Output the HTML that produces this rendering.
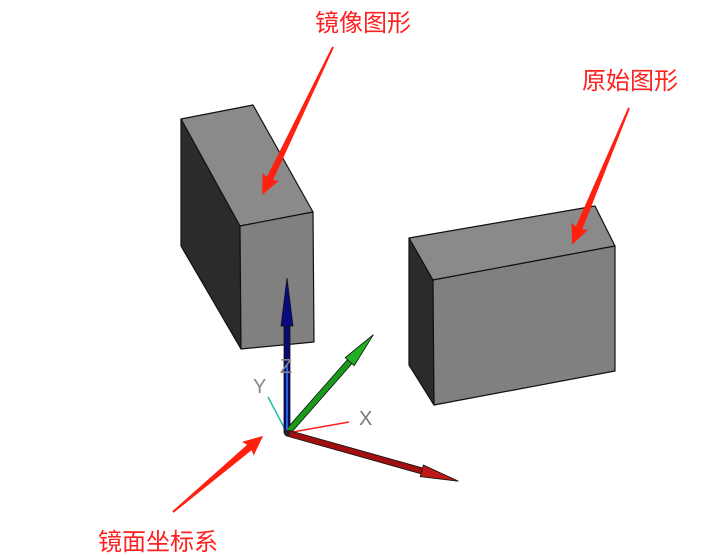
<!DOCTYPE html>
<html><head><meta charset="utf-8"><style>
html,body{margin:0;padding:0;background:#fff;width:720px;height:556px;overflow:hidden}
text{font-family:"Liberation Sans","Noto Sans CJK SC",sans-serif;}
</style></head><body>
<svg width="720" height="556" viewBox="0 0 720 556" xmlns="http://www.w3.org/2000/svg">
<g stroke="#111" stroke-width="1.2" stroke-linejoin="round">
<polygon points="181,119 240,226 241,349 181,246" fill="#2b2b2b"/>
<polygon points="181,119 253,105 313,212 240,226" fill="#8a8a8a"/>
<polygon points="240,226 313,212 314,342 241,349" fill="#808080"/>
<polygon points="409,238 433,280 434,405 409,365" fill="#2b2b2b"/>
<polygon points="409,238 595,206 615,246 433,280" fill="#8a8a8a"/>
<polygon points="433,280 615,246 615,371 434,405" fill="#808080"/>
</g>
<line x1="287" y1="433" x2="268" y2="397" stroke="#20c0a0" stroke-width="1.5"/>
<line x1="287" y1="433" x2="349" y2="422" stroke="#ff2020" stroke-width="1.5"/>
<g stroke="#111" stroke-width="0.8">
<rect x="284" y="320" width="6" height="113" fill="#0a0a70"/>
<polygon points="287,278 293,326 281,326" fill="#0a0a80"/>
<g transform="translate(287,433) rotate(-48.7)">
<rect x="0" y="-3" width="110" height="6" fill="#1a9a1a"/>
<polygon points="131,0 95,-6 95,6" fill="#22b022"/>
</g>
<g transform="translate(287,433) rotate(15.7)">
<rect x="0" y="-3" width="150" height="6" fill="#a01010"/>
<polygon points="178,0 140,-6 140,6" fill="#c01818"/>
</g>
</g>
<line x1="287" y1="433" x2="287" y2="365" stroke="#3080ff" stroke-width="1.5"/>
<circle cx="287" cy="433" r="3" fill="#222"/>
<text x="253" y="393" font-size="20" fill="#888">Y</text>
<text x="280" y="373" font-size="20" fill="#888">Z</text>
<text x="359" y="425" font-size="20" fill="#777">X</text>
<g fill="#ff2010">
<g transform="translate(333,47) rotate(115.6)"><polygon points="0,-1 146,-3.5 144,-9 164,0 144,9 146,3.5 0,1"/></g>
<g transform="translate(629,108) rotate(112.6)"><polygon points="0,-1 130,-3.5 128,-9 148,0 128,9 130,3.5 0,1"/></g>
<g transform="translate(173,512) rotate(-40.2)"><polygon points="0,-1 100,-3.5 98,-9 118,0 98,9 100,3.5 0,1"/></g>
</g>
<text x="315" y="31" font-size="24" fill="#ff2020">镜像图形</text>
<text x="582" y="89" font-size="24" fill="#ff2020">原始图形</text>
<text x="98" y="550" font-size="24" fill="#ff2020">镜面坐标系</text>
</svg>
</body></html>
